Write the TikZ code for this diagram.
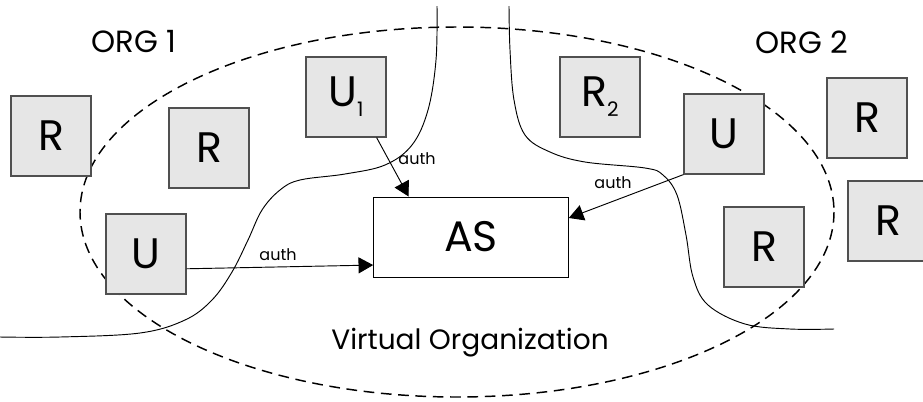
\documentclass[tikz,border=0pt]{standalone}
\usepackage{fontspec}
\setmainfont{Poppins}
\usetikzlibrary{arrows.meta}
\definecolor{boxFill}{RGB}{230, 230, 230}
\definecolor{boxLine}{RGB}{80, 80, 80}
\newcommand{\subidx}[1]{\raisebox{-7.5pt}{\fontsize{15}{15}\selectfont #1}}

\begin{document}
\begin{tikzpicture}[x=0.75pt, y=-0.75pt,
    grayBox/.style={draw=boxLine, line width=0.9pt, fill=boxFill, minimum width=60pt, minimum height=60pt,
      inner sep=0pt, font=\fontsize{32}{32}\selectfont},
    authLbl/.style={inner sep=0pt, font=\fontsize{12}{12}\selectfont},
    authArrow/.style={-{Triangle[length=11pt, width=12pt]}, line width=0.7pt}]
  \useasboundingbox (0,0) rectangle (923,401);
  % virtual organization
  \draw[dashed, dash pattern=on 8pt off 5pt, line width=1.1pt] (457,212) ellipse (377 and 185);
  % organization borders
  \draw[line width=0.7pt] plot[smooth, tension=0.6] coordinates {(437,6) (436,60) (428,110) (412,145)
    (385,165) (345,174) (300,180) (280,190) (262,210) (248,240) (232,272) (212,300) (185,320)
    (140,333) (60,337) (0,337)};
  \draw[line width=0.7pt] plot[smooth, tension=0.6] coordinates {(509,6) (510,50) (514,100)
    (525,135) (550,152) (585,162) (645,168) (663,175) (677,195) (686,235) (693,277) (708,305)
    (745,324) (790,329) (834,329)};
  % nodes
  \node[grayBox] (rA) at (51,136) {R};
  \node[grayBox] (rB) at (209,148) {R};
  \node[grayBox] (uOne) at (346,97) {U\subidx{1}};
  \node[grayBox] (uLeft) at (146,254) {U};
  \node[grayBox] (rTwo) at (600,97) {R\subidx{2}};
  \node[grayBox] (uRight) at (724,134) {U};
  \node[grayBox] (rC) at (867,118) {R};
  \node[grayBox] (rD) at (888,221) {R};
  \node[grayBox] (rE) at (764,247) {R};
  \node[draw, line width=0.7pt, fill=white, minimum width=146pt, minimum height=60pt, inner sep=0pt,
    font=\fontsize{32}{32}\selectfont] (as) at (471,237) {AS};
  \node[font=\fontsize{23}{23}\selectfont] (orgOne) at (134,42) {ORG 1};
  \node[font=\fontsize{23}{23}\selectfont] (orgTwo) at (802,42) {ORG 2};
  \node[font=\fontsize{21}{21}\selectfont] (vo) at (470,343) {Virtual Organization};
  % requests
  \draw[authArrow] (uOne.-53) -- (as.147.6);
  \draw[authArrow] (uLeft.-20.6) -- (as.196.1);
  \draw[authArrow] (uRight.south west) -- (as.11.5);
  \node[authLbl] (aOne) at (417,159) {auth};
  \node[authLbl] (aTwo) at (278,255) {auth};
  \node[authLbl] (aThree) at (613,183) {auth};
\end{tikzpicture}
\end{document}
